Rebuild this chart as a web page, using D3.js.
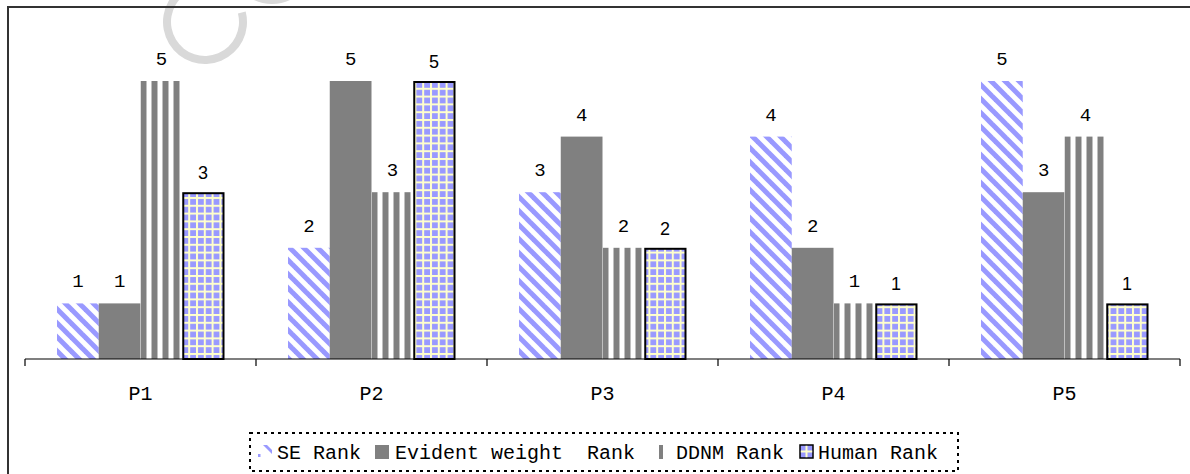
<!DOCTYPE html>
<html>
<head>
<meta charset="utf-8">
<script src="https://cdn.jsdelivr.net/npm/d3@7"></script>
<style>
  html, body { margin: 0; padding: 0; background: #fff; }
  svg { display: block; }
</style>
</head>
<body>
<script>
// ---- data ----
const categories = ["P1", "P2", "P3", "P4", "P5"];
const seriesNames = ["SE Rank", "Evident weight  Rank", "DDNM Rank", "Human Rank"];
const seRank = [1, 2, 3, 4, 5];
const evidentRank = [1, 5, 4, 2, 3];
const ddnmRank = [5, 3, 2, 1, 4];
const humanRank = [3, 5, 2, 1, 1];
const yMax = 6;

const W = 1190, H = 474;
const svg = d3.select("body").append("svg").attr("width", W).attr("height", H);
const defs = svg.append("defs");

// faint watermark fragments (partial glyph strokes cut by the top edge)
const arc = d3.arc();
const wm = svg.append("g").attr("fill", "#d9d9d9");
wm.append("path").attr("transform", "translate(205,22)")
  .attr("d", arc({ innerRadius: 34, outerRadius: 42, startAngle: -Math.PI * 0.22, endAngle: -Math.PI * 1.58 }));
wm.append("path").attr("transform", "translate(272,-38)")
  .attr("d", arc({ innerRadius: 34, outerRadius: 42, startAngle: Math.PI * 0.6, endAngle: Math.PI * 1.4 }));

// frame
svg.append("line").attr("x1", 8).attr("x2", W).attr("y1", 7).attr("y2", 7)
  .attr("stroke", "#333").attr("stroke-width", 2);
svg.append("line").attr("x1", 8).attr("x2", 8).attr("y1", 6).attr("y2", H)
  .attr("stroke", "#333").attr("stroke-width", 2);

// scales
const x = d3.scaleBand().domain(categories).range([25, 1180]).padding(0);
const inner = d3.scaleBand().domain(d3.range(4)).range([32, x.bandwidth() - 32]).padding(0);
const y = d3.scaleLinear().domain([0, yMax]).range([359, 25.4]);

const BLUE = "#9999ff", GRAY = "#808080", YEL = "#ffffcc";

// patterns
const pSE = defs.append("pattern").attr("id", "pSE").attr("patternUnits", "userSpaceOnUse")
  .attr("width", 14).attr("height", 14);
pSE.append("rect").attr("width", 14).attr("height", 14).attr("fill", "#fff");
[[0,0,14,14],[-7,7,7,21],[7,-7,21,7]].forEach(s =>
  pSE.append("line").attr("x1", s[0]).attr("y1", s[1]).attr("x2", s[2]).attr("y2", s[3])
    .attr("stroke", BLUE).attr("stroke-width", 5));

const pH = defs.append("pattern").attr("id", "pH").attr("patternUnits", "userSpaceOnUse")
  .attr("width", 7.8).attr("height", 7.8).attr("x", 1).attr("y", 2);
pH.append("rect").attr("width", 7.8).attr("height", 7.8).attr("fill", YEL);
pH.append("rect").attr("x", 2).attr("y", 2).attr("width", 5.8).attr("height", 5.8).attr("fill", BLUE);

categories.forEach((c, i) => {
  const p = defs.append("pattern").attr("id", "pD" + i).attr("patternUnits", "userSpaceOnUse")
    .attr("x", x(c) + inner(2)).attr("y", 0).attr("width", 11).attr("height", 10);
  p.append("rect").attr("width", 11).attr("height", 10).attr("fill", "#fff");
  p.append("rect").attr("width", 6).attr("height", 10).attr("fill", GRAY);
});

const series = [
  { name: seriesNames[0], values: seRank, fill: () => "url(#pSE)", stroke: "none", font: "Liberation Mono, Courier New, monospace", fs: 19, off: 16 },
  { name: seriesNames[1], values: evidentRank, fill: () => GRAY, stroke: "none", font: "Liberation Mono, Courier New, monospace", fs: 19, off: 16 },
  { name: seriesNames[2], values: ddnmRank, fill: i => "url(#pD" + i + ")", stroke: "none", font: "Liberation Mono, Courier New, monospace", fs: 19, off: 16 },
  { name: seriesNames[3], values: humanRank, fill: () => "url(#pH)", stroke: "#000", font: "Liberation Sans, Arial, sans-serif", fs: 18, off: 13 }
];

const plot = svg.append("g");
series.forEach((s, si) => {
  const g = plot.append("g");
  const b = s.stroke !== "none";
  g.selectAll("rect").data(s.values).join("rect")
    .attr("x", (d, i) => x(categories[i]) + inner(si) + (b ? 1 : 0))
    .attr("y", d => y(d) + (b ? 1 : 0))
    .attr("width", inner.bandwidth() - (b ? 1.5 : 0))
    .attr("height", d => y(0) - y(d) - (b ? 1 : 0))
    .attr("fill", (d, i) => s.fill(i))
    .attr("stroke", s.stroke).attr("stroke-width", 2);
  g.selectAll("text").data(s.values).join("text")
    .attr("x", (d, i) => x(categories[i]) + inner(si) + inner.bandwidth() / 2)
    .attr("y", d => y(d) - s.off)
    .attr("text-anchor", "middle")
    .attr("font-family", s.font).attr("font-size", s.fs).attr("fill", "#000")
    .text(d => d);
});

// category axis
const axisG = svg.append("g");
axisG.append("line").attr("x1", x.range()[0]).attr("x2", x.range()[1])
  .attr("y1", y(0)).attr("y2", y(0)).attr("stroke", "#000").attr("stroke-width", 1.2);
const bounds = categories.map(c => x(c)).concat([x.range()[1]]);
axisG.selectAll("line.tick").data(bounds).join("line").attr("class", "tick")
  .attr("x1", d => d).attr("x2", d => d).attr("y1", y(0)).attr("y2", y(0) + 7)
  .attr("stroke", "#000").attr("stroke-width", 1.2);
axisG.selectAll("text").data(categories).join("text")
  .attr("x", c => x(c) + x.bandwidth() / 2).attr("y", 400)
  .attr("text-anchor", "middle")
  .attr("font-family", "Liberation Mono, Courier New, monospace").attr("font-size", 20)
  .text(c => c);

// legend
const lg = svg.append("g");
lg.append("rect").attr("x", 250).attr("y", 433).attr("width", 708).attr("height", 38)
  .attr("fill", "none").attr("stroke", "#000").attr("stroke-width", 2).attr("stroke-dasharray", "3,4");
const legendItems = [
  { icon: "se", ix: 258, tx: 277 },
  { icon: "ev", ix: 375, tx: 395 },
  { icon: "dd", ix: 659, tx: 676 },
  { icon: "hu", ix: 800, tx: 818 }
];
legendItems.forEach((it, k) => {
  const iy = 445;
  if (it.icon === "se") {
    lg.append("path").attr("d", `M${it.ix+5},${iy} L${it.ix+9},${iy} L${it.ix+14},${iy+5} L${it.ix+14},${iy+9} Z`).attr("fill", BLUE);
    lg.append("rect").attr("x", it.ix).attr("y", iy+9).attr("width", 2.5).attr("height", 3).attr("fill", BLUE);
  } else if (it.icon === "ev") {
    lg.append("rect").attr("x", it.ix).attr("y", iy).attr("width", 14).attr("height", 14).attr("fill", GRAY);
  } else if (it.icon === "dd") {
    lg.append("rect").attr("x", it.ix).attr("y", iy).attr("width", 4).attr("height", 14).attr("fill", GRAY);
  } else {
    lg.append("rect").attr("x", it.ix).attr("y", iy).attr("width", 13).attr("height", 13)
      .attr("fill", BLUE).attr("stroke", "#000").attr("stroke-width", 1.5);
    lg.append("rect").attr("x", it.ix + 5.5).attr("y", iy + 0.8).attr("width", 2).attr("height", 11.4).attr("fill", YEL);
    lg.append("rect").attr("x", it.ix + 0.8).attr("y", iy + 5.5).attr("width", 11.4).attr("height", 2).attr("fill", YEL);
  }
  lg.append("text").attr("x", it.tx).attr("y", 459)
    .attr("font-family", "Liberation Mono, Courier New, monospace").attr("font-size", 20)
    .attr("xml:space", "preserve").style("white-space", "pre")
    .text(seriesNames[k]);
});
</script>
</body>
</html>
